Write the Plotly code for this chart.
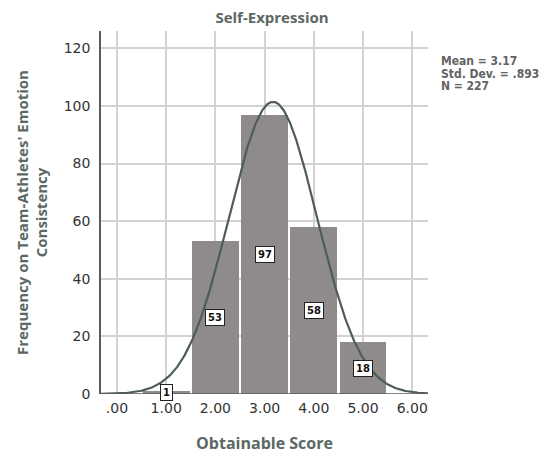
import numpy as np
import plotly.graph_objects as go

# Data
scores = [1, 2, 3, 4, 5]
freqs = [1, 53, 97, 58, 18]
x_ticks = [0, 1, 2, 3, 4, 5, 6]
x_tick_labels = [".00", "1.00", "2.00", "3.00", "4.00", "5.00", "6.00"]
y_ticks = [0, 20, 40, 60, 80, 100, 120]
MEAN = 3.17
SD = 0.893
N = 227
BIN_WIDTH = 1.0
stats_lines = ["Mean = 3.17", "Std. Dev. = .893", "N = 227"]

X_RANGE = [-0.325, 6.32]
Y_RANGE = [0, 126]

# Fitted normal curve defined by the displayed statistics
curve_x = np.linspace(X_RANGE[0], X_RANGE[1], 400)
curve_y = N * BIN_WIDTH / (SD * np.sqrt(2 * np.pi)) * np.exp(-0.5 * ((curve_x - MEAN) / SD) ** 2)

GRID = "#d2d2d2"
AXIS = "#5a5a5a"
TITLE_COL = "#5b6863"

fig = go.Figure()
fig.add_trace(go.Bar(
    x=scores, y=freqs, width=0.95,
    marker=dict(color="#8f8b8a", line=dict(width=0)),
    hoverinfo="skip", showlegend=False,
))
fig.add_trace(go.Scatter(
    x=curve_x, y=curve_y, mode="lines",
    line=dict(color="#4f5d58", width=2.2),
    hoverinfo="skip", showlegend=False, cliponaxis=True,
))

for s, f in zip(scores, freqs):
    fig.add_annotation(
        x=s, y=f / 2, text=str(f), showarrow=False,
        font=dict(family="DejaVu Sans", size=10, color="#111111", weight="bold"),
        bgcolor="white", bordercolor="#222222", borderwidth=1, borderpad=2,
    )

for i, line in enumerate(stats_lines):
    fig.add_annotation(
        xref="paper", yref="paper", x=1.034, y=0.917 - i * 0.0345,
        xanchor="left", yanchor="middle",
        text=line, align="left", showarrow=False,
        font=dict(family="DejaVu Sans Condensed", size=12, color="#636363", weight="bold"),
    )

fig.update_layout(
    width=544, height=454,
    margin=dict(l=101, r=116, t=31, b=60),
    paper_bgcolor="white", plot_bgcolor="white",
    bargap=0,
    title=dict(
        text="<b>Self-Expression</b>", x=0.5, xanchor="center", y=0.962, yanchor="middle",
        font=dict(family="Open Sans", size=15, color=TITLE_COL),
    ),
    xaxis=dict(
        range=X_RANGE, tickvals=x_ticks, ticktext=x_tick_labels,
        showgrid=True, gridcolor=GRID, gridwidth=1.5,
        zeroline=False, showline=False, ticks="",
        ticklabelstandoff=4, automargin=False,
        tickfont=dict(family="DejaVu Sans", size=14, color="#333333"),
        title=dict(text="<b>Obtainable Score</b>", standoff=22,
                   font=dict(family="Open Sans", size=16, color=TITLE_COL)),
    ),
    yaxis=dict(
        range=Y_RANGE, tickvals=y_ticks,
        showgrid=True, gridcolor=GRID, gridwidth=1.5,
        zeroline=False, showline=True, linecolor=AXIS, linewidth=1.5, ticks="",
        ticklabelstandoff=6, automargin=False,
        tickfont=dict(family="DejaVu Sans", size=14, color="#333333"),
        title=dict(text="<b>Frequency on Team-Athletes' Emotion<br>Consistency</b>", standoff=12,
                   font=dict(family="Open Sans", size=15, color=TITLE_COL)),
    ),
    shapes=[dict(type="line", xref="paper", yref="y", x0=0, x1=1, y0=0, y1=0,
                 line=dict(color=AXIS, width=1.5), layer="above")],
)

fig.write_html("out.html")
